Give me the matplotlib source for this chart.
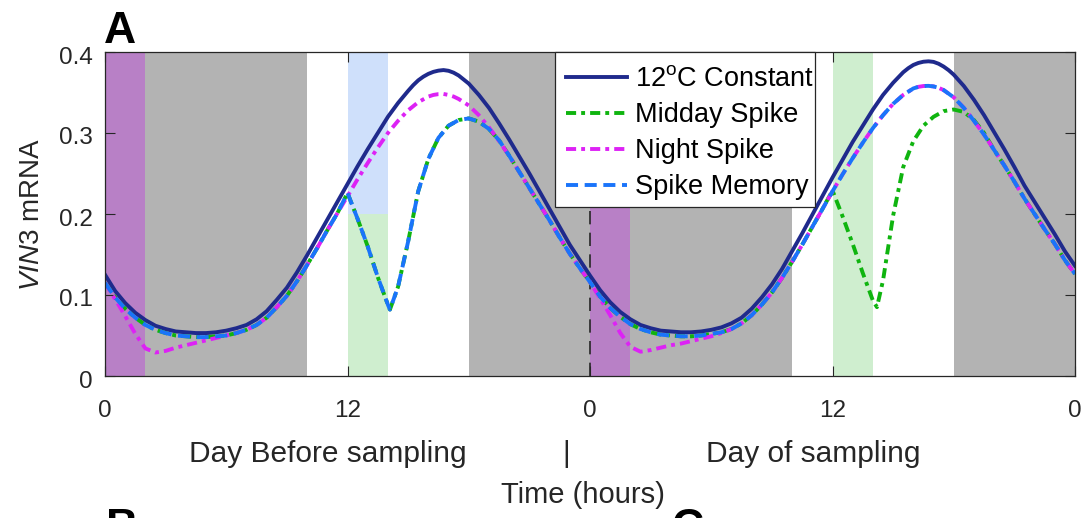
import numpy as np
import matplotlib.pyplot as plt
from matplotlib.patches import Rectangle
from matplotlib.transforms import ScaledTranslation

plt.rcParams['font.family'] = ['Liberation Sans', 'DejaVu Sans']
plt.rcParams['mathtext.fontset'] = 'custom'
plt.rcParams['mathtext.rm'] = 'Liberation Sans'
plt.rcParams['mathtext.it'] = 'Liberation Sans:italic'

# half-hour sampling of the simulated time course (hours)
hours = [i * 0.5 for i in range(97)]

# 12C constant model
const_12c = [
    0.125, 0.105, 0.090, 0.078, 0.069, 0.062, 0.058, 0.055, 0.054, 0.053,
    0.053, 0.054, 0.056, 0.059, 0.063, 0.070, 0.080, 0.094, 0.109, 0.128,
    0.149, 0.171, 0.193, 0.215, 0.237, 0.259, 0.280, 0.300, 0.320, 0.337,
    0.352, 0.365, 0.373, 0.377, 0.376, 0.370, 0.361, 0.347, 0.331, 0.312,
    0.292, 0.271, 0.250, 0.228, 0.206, 0.184, 0.162, 0.143, 0.124,
    0.106, 0.091, 0.079, 0.070, 0.063, 0.059, 0.056, 0.055, 0.054, 0.054,
    0.055, 0.057, 0.060, 0.065, 0.072, 0.083, 0.097, 0.113, 0.132, 0.154,
    0.176, 0.199, 0.222, 0.245, 0.267, 0.289, 0.309, 0.329, 0.347, 0.362,
    0.375, 0.384, 0.388, 0.388, 0.382, 0.372, 0.358, 0.341, 0.322, 0.301,
    0.280, 0.258, 0.235, 0.215, 0.195, 0.175, 0.154, 0.136,
]
# finer samples around the two maxima
const_peak1_t = [15.0, 15.25, 15.5, 15.75, 16.0, 16.25, 16.5, 16.75, 17.0, 17.25, 17.5, 17.75, 18.0]
const_peak1_v = [0.352, 0.359, 0.365, 0.3695, 0.373, 0.3755, 0.377, 0.3777, 0.3768, 0.3745,
                 0.371, 0.366, 0.361]
const_peak2_t = [39.5, 39.75, 40.0, 40.25, 40.5, 40.75, 41.0, 41.25, 41.5, 41.75, 42.0]
const_peak2_v = [0.375, 0.380, 0.384, 0.3865, 0.388, 0.3885, 0.3878, 0.3855, 0.382, 0.3775, 0.372]

# unperturbed temperature-shift model
base = [
    0.115, 0.097, 0.083, 0.072, 0.063, 0.057, 0.053, 0.050, 0.049, 0.048,
    0.048, 0.049, 0.050, 0.053, 0.057, 0.063, 0.072, 0.085, 0.099, 0.117,
    0.137, 0.158, 0.180, 0.201, 0.222, 0.243, 0.263, 0.282, 0.300, 0.315,
    0.328, 0.338, 0.345, 0.348, 0.347, 0.342, 0.334, 0.322, 0.307, 0.290,
    0.272, 0.252, 0.232, 0.212, 0.192, 0.171, 0.151, 0.133, 0.116,
    0.098, 0.084, 0.073, 0.064, 0.058, 0.054, 0.051, 0.050, 0.049, 0.049,
    0.050, 0.052, 0.054, 0.058, 0.065, 0.075, 0.088, 0.103, 0.121, 0.141,
    0.162, 0.184, 0.206, 0.228, 0.249, 0.269, 0.288, 0.306, 0.322, 0.336,
    0.347, 0.355, 0.358, 0.358, 0.353, 0.344, 0.331, 0.315, 0.298, 0.279,
    0.260, 0.240, 0.219, 0.200, 0.181, 0.163, 0.143, 0.126,
]
base_peak1_t = [15.5, 15.75, 16.0, 16.25, 16.5, 16.75, 17.0, 17.25, 17.5]
base_peak1_v = [0.338, 0.3415, 0.345, 0.347, 0.348, 0.3482, 0.347, 0.345, 0.342]
base_peak2_t = [39.5, 39.75, 40.0, 40.25, 40.5, 40.75, 41.0, 41.25, 41.5]
base_peak2_v = [0.347, 0.351, 0.355, 0.357, 0.358, 0.3582, 0.3575, 0.3558, 0.353]

# midday warm spike, day before and day of sampling
spike1_t = [12, 12.5, 13, 13.5, 14, 14.1, 14.5, 15, 15.5, 16, 16.5, 17, 17.5, 18, 18.5, 19, 19.5]
spike1_v = [0.226, 0.194, 0.160, 0.122, 0.088, 0.082, 0.110, 0.166, 0.228, 0.268, 0.294,
            0.309, 0.316, 0.318, 0.314, 0.305, 0.291]
spike2_t = [36, 36.5, 37, 37.5, 38, 38.2, 38.5, 39, 39.5, 40, 40.5, 41, 41.5, 42, 42.5, 43, 43.5]
spike2_v = [0.229, 0.197, 0.163, 0.127, 0.093, 0.085, 0.118, 0.198, 0.258, 0.290, 0.309,
            0.320, 0.327, 0.329, 0.326, 0.316, 0.300]

# night spike dips
night1_t = [0, 0.5, 1, 1.5, 2, 2.5, 3, 3.5, 4, 4.5, 5, 5.5, 6, 6.5]
night1_v = [0.115, 0.095, 0.074, 0.052, 0.034, 0.029, 0.031, 0.035, 0.038, 0.041, 0.044,
            0.047, 0.050, 0.053]
night2_t = [24, 24.5, 25, 25.5, 26, 26.5, 27, 27.5, 28, 28.5, 29, 29.5, 30, 30.5]
night2_v = [0.116, 0.096, 0.075, 0.053, 0.036, 0.030, 0.032, 0.035, 0.038, 0.040, 0.043,
            0.046, 0.049, 0.053]

# shaded periods
night_periods = [(0, 2), (24, 26)]
dark_periods = [(2, 10), (18, 24), (26, 34), (42, 48)]
midday_spikes = [(12, 14), (36, 38)]
memory_spikes = [(12, 14)]


def splice(t_list, v_list, pieces):
    t = list(t_list)
    v = list(v_list)
    for pt, pv in pieces:
        keep = [i for i, x in enumerate(t) if x < pt[0] or x > pt[-1]]
        t = [t[i] for i in keep] + list(pt)
        v = [v[i] for i in keep] + list(pv)
        order = np.argsort(t, kind='stable')
        t = [t[i] for i in order]
        v = [v[i] for i in order]
    return t, v


const_t, const_v = splice(hours, const_12c, [(const_peak1_t, const_peak1_v),
                                             (const_peak2_t, const_peak2_v)])
base_t, base_v = splice(hours, base, [(base_peak1_t, base_peak1_v),
                                      (base_peak2_t, base_peak2_v)])
midday_t, midday_v = splice(base_t, base_v, [(spike1_t, spike1_v), (spike2_t, spike2_v)])
night_t, night_v = splice(base_t, base_v, [(night1_t, night1_v), (night2_t, night2_v)])
memory_t, memory_v = splice(base_t, base_v, [(spike1_t, spike1_v)])

W, H = 1088, 518
fig = plt.figure(figsize=(W / 100, H / 100), dpi=100)
ax = fig.add_axes([105 / W, 1 - 376 / H, 970 / W, 324 / H])

for a, b in dark_periods:
    ax.axvspan(a, b, color='#b3b3b3', lw=0, zorder=0)
for a, b in night_periods:
    ax.axvspan(a, b, color='#b880c6', lw=0, zorder=0)
for a, b in midday_spikes:
    ax.axvspan(a, b, color='#cfeecf', lw=0, zorder=0)
for a, b in memory_spikes:
    ax.axvspan(a, b, ymin=0.5, ymax=1, color='#cfe0fb', lw=0, zorder=0)

ax.axvline(24, color='#262626', lw=1.2, ls=(0, (8, 5)), zorder=1)

lw = 2.8
dashdot = (0, (2.6, 1.3, 1, 1.3))
ax.plot(const_t, const_v, color='#1f2a8c', lw=lw, label=r'12$^{\mathrm{o}}$C Constant')
ax.plot(midday_t, midday_v, color='#0fb40f', lw=lw, ls=dashdot, label='Midday Spike')
ax.plot(night_t, night_v, color='#dd22f5', lw=lw, ls=dashdot, label='Night Spike')
ax.plot(memory_t, memory_v, color='#1a74fa', lw=lw, ls=(0, (3.1, 1.7)),
        label='Spike Memory')

ax.set_xlim(0, 48)
ax.set_ylim(0, 0.4)
ax.set_xticks([0, 12, 24, 36, 48])
ax.set_xticklabels(['0', '12', '0', '12', '0'])
ax.set_yticks([0, 0.1, 0.2, 0.3, 0.4])
ax.set_yticklabels(['0', '0.1', '0.2', '0.3', '0.4'])
ax.tick_params(direction='in', length=7, width=0.8, top=True, right=True,
               colors='#262626', labelsize=17.5)
ax.tick_params(axis='x', pad=17)
ax.tick_params(axis='y', pad=9)
shift = ScaledTranslation(0, -3 / 100, fig.dpi_scale_trans)
for lab in ax.get_yticklabels():
    lab.set_transform(lab.get_transform() + shift)
for s in ax.spines.values():
    s.set_color('#262626')
    s.set_linewidth(0.9)

ax.set_ylabel(r'$\mathit{VIN3}$ mRNA', fontsize=20, color='#262626', labelpad=10)

# legend box drawn separately so the padding can be uneven
ax.add_patch(Rectangle((555 / W, 1 - 207 / H), 260 / W, 155 / H, transform=fig.transFigure,
                       facecolor='white', edgecolor='#262626', lw=0.9, zorder=4,
                       clip_on=False))
leg = ax.legend(loc='upper left', bbox_to_anchor=(566 / W, 1 - 66 / H),
                bbox_transform=fig.transFigure, fontsize=19.5, frameon=False,
                handlelength=2.25, handletextpad=0.3, labelspacing=0.375,
                borderpad=0, borderaxespad=0)
leg.set_zorder(5)

fig.text(328 / W, 1 - 462 / H, 'Day Before sampling', fontsize=21.5, color='#262626',
         ha='center', va='baseline')
fig.text(566 / W, 1 - 462 / H, '|', fontsize=21.5, color='#262626',
         ha='center', va='baseline')
fig.text(813 / W, 1 - 462 / H, 'Day of sampling', fontsize=21.5, color='#262626',
         ha='center', va='baseline')
fig.text(583 / W, 1 - 503 / H, 'Time (hours)', fontsize=21, color='#262626',
         ha='center', va='baseline')

fig.text(104 / W, 1 - 43 / H, 'A', fontsize=32, fontweight='bold', va='baseline')
fig.text(106 / W, 1 - 540 / H, 'B', fontsize=32, fontweight='bold', va='baseline')
fig.text(671 / W, 1 - 540 / H, 'C', fontsize=32, fontweight='bold', va='baseline')

fig.savefig('out.png', dpi=100)
